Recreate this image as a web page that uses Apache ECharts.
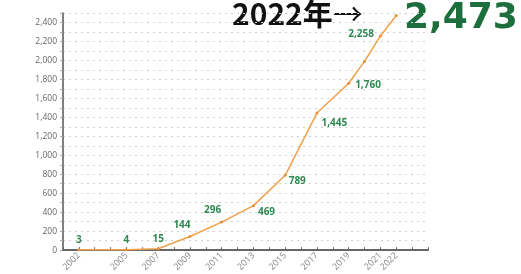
<!DOCTYPE html>
<html>
<head>
<meta charset="utf-8">
<script src="https://cdn.jsdelivr.net/npm/echarts@6/dist/echarts.min.js"></script>
<style>
  html, body { margin: 0; padding: 0; background: #fff; }
  #chart { width: 521px; height: 274px; }
</style>
</head>
<body>
<div id="chart"></div>
<script>
// data
var years  = [2002, 2005, 2007, 2009, 2011, 2013, 2015, 2017, 2019, 2020, 2021, 2022];
var counts = [3, 4, 15, 144, 296, 469, 789, 1445, 1760, 1990, 2258, 2473];
var labeledYears = [2002, 2005, 2007, 2009, 2011, 2013, 2015, 2017, 2019, 2021, 2022];
var headYear = '2022年';
var headArrow = '→';
var bigText = '2,473';

function fmt(n) {
    return String(n).replace(/\B(?=(\d{3})+(?!\d))/g, ',');
}

// where each value label sits relative to its point
var labelPos = {
    2002: { position: 'top', offset: [0, 2] },
    2005: { position: 'top', offset: [0, 2] },
    2007: { position: 'top', offset: [0, 2] },
    2009: { position: 'top', offset: [-8, 0] },
    2011: { position: 'top', offset: [-9, 0] },
    2013: { position: 'right', offset: [-2, 7] },
    2015: { position: 'right', offset: [-3, 6] },
    2017: { position: 'right', offset: [-2, 10] },
    2019: { position: 'right', offset: [0, 2] },
    2021: { position: 'left', offset: [0, -2] }
};

var seriesData = [];
for (var i = 0; i < years.length; i++) {
    var item = { value: [years[i], counts[i]] };
    var lp = labelPos[years[i]];
    if (lp) {
        item.label = { show: true, position: lp.position, offset: lp.offset };
    } else {
        item.label = { show: false };
    }
    seriesData.push(item);
}

var chart = echarts.init(document.getElementById('chart'));

var option = {
    backgroundColor: '#ffffff',
    animation: false,
    grid: { left: 63, right: 93, top: 13, bottom: 21 },
    xAxis: {
        type: 'value',
        min: 2001,
        max: 2024,
        interval: 1,
        axisLine: { lineStyle: { color: '#666', width: 2 } },
        axisTick: { show: true, length: 3, inside: true, lineStyle: { color: '#666' } },
        splitLine: { show: false },
        axisLabel: {
            rotate: 45,
            fontSize: 9,
            color: '#888',
            fontFamily: 'Open Sans',
            margin: 4,
            formatter: function (v) {
                return labeledYears.indexOf(v) >= 0 ? String(v) : '';
            }
        }
    },
    yAxis: {
        type: 'value',
        min: 0,
        max: 2500,
        interval: 100,
        axisLine: { show: true, lineStyle: { color: '#555', width: 1.5 } },
        axisTick: { show: true, length: 3, lineStyle: { color: '#aaa' } },
        splitLine: { lineStyle: { color: '#cfcfcf', type: [2, 4], width: 1.2 } },
        axisLabel: {
            fontSize: 8.5,
            color: '#666',
            fontFamily: 'Open Sans',
            margin: 6,
            formatter: function (v) {
                return v % 200 === 0 ? fmt(v) : '';
            }
        }
    },
    series: [{
        type: 'line',
        data: seriesData,
        symbol: 'circle',
        symbolSize: 3,
        showSymbol: true,
        lineStyle: { color: '#f0a04b', width: 1.5 },
        itemStyle: { color: '#e8913a' },
        label: {
            color: '#2f8a52',
            fontSize: 10,
            fontWeight: 'bold',
            fontFamily: 'Open Sans',
            formatter: function (p) { return fmt(p.value[1]); }
        }
    }],
    graphic: [{
        type: 'text',
        left: 232,
        top: -1,
        style: {
            text: '{y|' + headYear + '}{a|' + headArrow + '}',
            rich: {
                y: { font: 'bold 30px "Noto Sans CJK JP"', fill: '#111' },
                a: { font: '30px "Noto Sans CJK JP"', fill: '#111' }
            }
        }
    }, {
        type: 'text',
        left: 404,
        top: 1,
        style: {
            text: bigText,
            font: 'bold 36px "DejaVu Sans"',
            fill: '#1c6e3c'
        }
    }]
};

chart.setOption(option);
</script>
</body>
</html>
